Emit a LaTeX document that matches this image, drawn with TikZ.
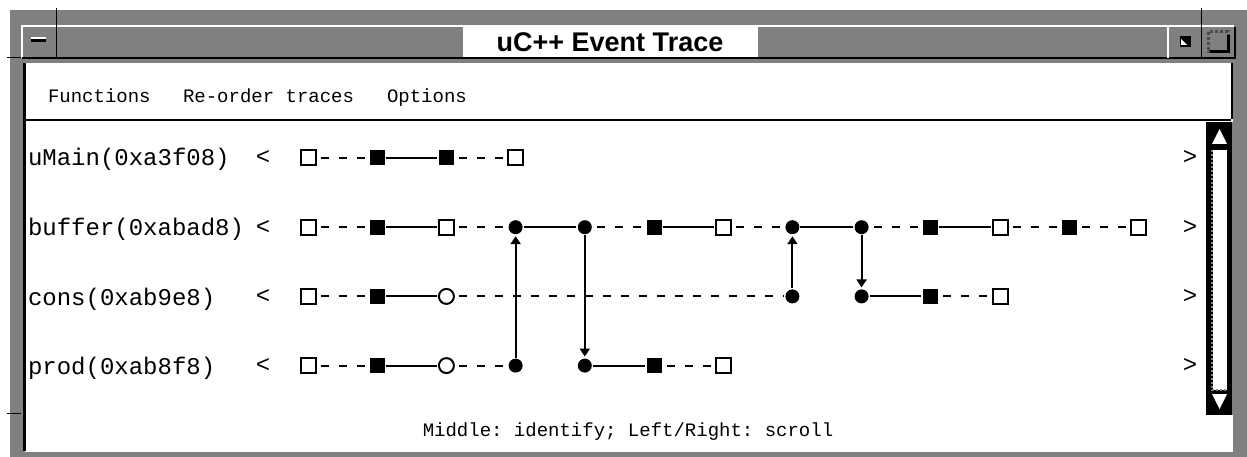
\documentclass[tikz,border=0pt]{standalone}
\usepackage{fontspec}
\usetikzlibrary{positioning, arrows.meta}
\newfontfamily\fixedfont{Liberation Mono}
\newfontfamily\titlefont{Liberation Sans}
\frenchspacing
\tikzset{
  frame/.style={fill=black!50},
  opensq/.style={rectangle, draw, fill=white, minimum size=15pt, inner sep=0pt},
  fillsq/.style={rectangle, fill=black, minimum size=15pt, inner sep=0pt},
  dot/.style={circle, fill=black, minimum size=14pt, inner sep=0pt},
  ring/.style={circle, draw, fill=white, minimum size=15pt, inner sep=0pt},
  wait/.style={dash pattern=on 8pt off 10pt, dash phase=-4pt},
  tasklabel/.style={anchor=base west, inner sep=0pt, font=\fixedfont\fontsize{24}{28}\selectfont},
  scrollmark/.style={inner sep=0pt, font=\fixedfont\fontsize{24}{28}\selectfont},
  menutext/.style={inner sep=0pt, font=\fixedfont\fontsize{19}{22}\selectfont}
}
\begin{document}
\begin{tikzpicture}[x=1pt,y=-1pt,line width=2pt,node distance=69.2pt,
  >={Triangle[width=10pt,length=8pt]}, shorten >=1pt]
\useasboundingbox (0,0) rectangle (1247,457);

% window frame and title bar
\fill[frame] (10,10) rectangle (1247,457);
\draw[white, line width=1.5pt] (22,58) -- (22,26) -- (1235,26);
\draw[line width=1.5pt] (22,58) -- (1235,58) -- (1235,26);
\node[fill=white, minimum width=295pt, minimum height=30pt, inner sep=0pt,
      font=\titlefont\bfseries\fontsize{27}{30}\selectfont] (title) at (610,42) {uC++ Event Trace};
\draw[line width=1pt] (56,8) -- (56,58);
\draw[line width=1pt] (1201,8) -- (1201,58);
\draw[line width=1pt] (7,58) -- (22,58);
\draw[line width=1pt] (7,413) -- (22,413);
\draw[white, line width=1.5pt] (1168,58) -- (1168,26);
\draw[white, line width=1.2pt] (31,38) -- (47,38);
\draw[line width=3pt] (31,41) -- (47,41);
\fill (1180,36) rectangle (1191,47);
\fill[white] (1181,45) -- (1181,39) -- (1187,45) -- cycle;
\draw[black!70, line width=3pt, dotted] (1208,32) rectangle (1228,52);
\draw[line width=3pt] (1210,52) -- (1228,52) -- (1228,34);

% client area
\fill[white] (25,63) rectangle (1233,452);
\draw[line width=3pt] (24,63) -- (24,452);
\draw[line width=2.5pt] (25,120) -- (1232,120);
\draw[line width=2.5pt] (1232,63) -- (1232,120);
\node[menutext, anchor=base west] (fn) at (47,103) {Functions};
\node[menutext, anchor=base west] (reorder) at (182,103) {Re-order traces};
\node[menutext, anchor=base west] (opt) at (386,103) {Options};

% scroll bar
\fill (1206,122) rectangle (1232,415);
\fill[frame] (1232,122) rectangle (1238,415);
\fill[white] (1213,150) rectangle (1227,390);
\draw[black!50, line width=2pt, dotted] (1212,150) -- (1212,390) -- (1227,390);
\fill[white] (1219.5,129) -- (1212,144) -- (1227,144) -- cycle;
\fill[white] (1219.5,409) -- (1212,394) -- (1227,394) -- cycle;

% task names
\node[tasklabel] (lmain) at (27,166) {uMain(0xa3f08)};
\node[tasklabel] (lbuf) at (27,236) {buffer(0xabad8)};
\node[tasklabel] (lcons) at (27,305) {cons(0xab9e8)};
\node[tasklabel] (lprod) at (27,374) {prod(0xab8f8)};
\node[scrollmark] (lt0) at (263,158) {<};
\node[scrollmark] (lt1) at (263,228) {<};
\node[scrollmark] (lt2) at (263,297) {<};
\node[scrollmark] (lt3) at (263,366) {<};
\node[scrollmark] (gt0) at (1190,158) {>};
\node[scrollmark] (gt1) at (1190,228) {>};
\node[scrollmark] (gt2) at (1190,297) {>};
\node[scrollmark] (gt3) at (1190,366) {>};

% events
\node[opensq] (m0) at (308,158) {};
\node[fillsq] (m1) [right of=m0] {};
\node[fillsq] (m2) [right of=m1] {};
\node[opensq] (m3) [right of=m2] {};

\node[opensq] (b0) [below of=m0] {};
\node[fillsq] (b1) [right of=b0] {};
\node[opensq] (b2) [right of=b1] {};
\node[dot] (b3) [right of=b2] {};
\node[dot] (b4) [right of=b3] {};
\node[fillsq] (b5) [right of=b4] {};
\node[opensq] (b6) [right of=b5] {};
\node[dot] (b7) [right of=b6] {};
\node[dot] (b8) [right of=b7] {};
\node[fillsq] (b9) [right of=b8] {};
\node[opensq] (b10) [right of=b9] {};
\node[fillsq] (b11) [right of=b10] {};
\node[opensq] (b12) [right of=b11] {};

\node[opensq] (c0) [below of=b0] {};
\node[fillsq] (c1) [right of=c0] {};
\node[ring] (c2) [right of=c1] {};
\node[dot] (c7) [below of=b7] {};
\node[dot] (c8) [right of=c7] {};
\node[fillsq] (c9) [right of=c8] {};
\node[opensq] (c10) [right of=c9] {};

\node[opensq] (p0) [below of=c0] {};
\node[fillsq] (p1) [right of=p0] {};
\node[ring] (p2) [right of=p1] {};
\node[dot] (p3) [right of=p2] {};
\node[dot] (p4) [right of=p3] {};
\node[fillsq] (p5) [right of=p4] {};
\node[opensq] (p6) [right of=p5] {};

\path (m0) edge[wait] (m1)
      (m1) edge       (m2)
      (m2) edge[wait] (m3);

\path (b0) edge[wait]  (b1)
      (b1) edge        (b2)
      (b2) edge[wait]  (b3)
      (b3) edge        (b4)
      (b4) edge[wait]  (b5)
      (b5) edge        (b6)
      (b6) edge[wait]  (b7)
      (b7) edge        (b8)
      (b8) edge[wait]  (b9)
      (b9) edge        (b10)
      (b10) edge[wait] (b11)
      (b11) edge[wait] (b12);

\path (c0) edge[wait] (c1)
      (c1) edge       (c2)
      (c2) edge[wait] (c7)
      (c8) edge       (c9)
      (c9) edge[wait] (c10);

\path (p0) edge[wait] (p1)
      (p1) edge       (p2)
      (p2) edge[wait] (p3)
      (p4) edge       (p5)
      (p5) edge[wait] (p6);

% messages between tasks
\path (p3) edge[->] (b3)
      (b4) edge[->] (p4)
      (c7) edge[->] (b7)
      (b8) edge[->] (c8);

\node[menutext] (status) at (628,432) {Middle: identify; Left/Right: scroll};
\end{tikzpicture}
\end{document}
